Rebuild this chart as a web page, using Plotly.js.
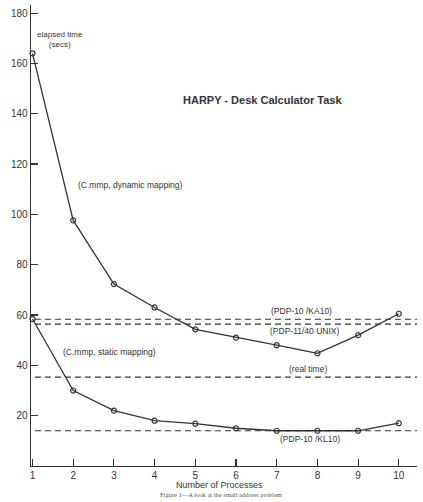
<!DOCTYPE html>
<html>
<head>
<meta charset="utf-8">
<script src="https://cdn.plot.ly/plotly-3.0.1.min.js"></script>
<style>html,body{margin:0;padding:0;background:#fff;}#chart{width:423px;height:502px;}</style>
</head>
<body>
<div id="chart"></div>
<script>
// Data
var processes = [1, 2, 3, 4, 5, 6, 7, 8, 9, 10];
var dynamicMapping = [164, 97.6, 72.3, 63, 54.3, 51, 48, 44.8, 52, 60.5];
var staticMapping = [58.4, 30, 22, 18, 16.8, 15, 14, 14, 14, 17];
var refNames = ["(PDP-10 /KA10)", "(PDP-11/40 UNIX)", "(real time)", "(PDP-10 /KL10)"];
var refValues = [58.3, 56.4, 35.3, 14];
var refSpan = [1.06, 10.5];
var yTicks = [20, 40, 60, 80, 100, 120, 140, 160, 180];

var ink = "#333333";
var font = "Liberation Sans, Arial, sans-serif";

var traces = [];
refValues.forEach(function (v, i) {
  traces.push({
    x: refSpan, y: [v, v], mode: "lines", name: refNames[i],
    line: {color: ink, width: 1.1, dash: "6px,4px"},
    cliponaxis: false, hoverinfo: "skip"
  });
});
[dynamicMapping, staticMapping].forEach(function (s, i) {
  traces.push({
    x: processes, y: s, mode: "lines+markers",
    name: i === 0 ? "C.mmp, dynamic mapping" : "C.mmp, static mapping",
    line: {color: ink, width: 1.3},
    marker: {symbol: "circle-open", size: 5, color: ink, line: {width: 1.2, color: ink}},
    cliponaxis: false
  });
});

function ann(text, x, y, size, extra) {
  var a = {text: text, x: x, y: y, xref: "x", yref: "y", showarrow: false,
    font: {family: font, size: size || 9, color: ink}, xanchor: "center", yanchor: "middle"};
  for (var k in extra) a[k] = extra[k];
  return a;
}

var layout = {
  width: 423, height: 502,
  margin: {l: 31, r: 6, t: 5, b: 36},
  paper_bgcolor: "#fff", plot_bgcolor: "#fff",
  showlegend: false,
  font: {family: font, color: ink, size: 10},
  xaxis: {
    range: [0.963, 10.447], tickvals: processes, ticks: "inside", ticklen: 7,
    tickcolor: ink, tickwidth: 1.1, showline: true, linecolor: ink, linewidth: 1.3,
    showgrid: false, zeroline: false, tickfont: {family: font, size: 10, color: ink}
  },
  yaxis: {
    range: [0, 183.2], tickvals: yTicks, ticks: "inside", ticklen: 7,
    tickcolor: ink, tickwidth: 1.1, showline: true, linecolor: ink, linewidth: 1.3,
    showgrid: false, zeroline: false, tickfont: {family: font, size: 10, color: ink}
  },
  annotations: [
    ann("elapsed time<br>(secs)", 1.68, 169.6, 8),
    ann("<b>HARPY - Desk Calculator Task</b>", 6.64, 145.4, 11),
    ann("(C.mmp, dynamic mapping)", 3.4, 111.6, 8.5),
    ann("(C.mmp, static mapping)", 2.9, 45.3, 8.5),
    ann(refNames[0], 7.62, 61.6, 8.5),
    ann(refNames[1], 7.68, 53.6, 8.5),
    ann(refNames[2], 7.78, 38.5, 8.5),
    ann(refNames[3], 7.82, 10.7, 8.5),
    {text: "Number of Processes", xref: "paper", yref: "paper", x: 0.489, y: -0.041,
      showarrow: false, xanchor: "center", yanchor: "middle",
      font: {family: font, size: 9, color: ink}},
    {text: "Figure 1—A look at the small address problem", xref: "paper", yref: "paper",
      x: 0.491, y: -0.061, showarrow: false, xanchor: "center", yanchor: "middle",
      font: {family: "Liberation Serif, serif", size: 6.5, color: "#555"}}
  ]
};

Plotly.newPlot("chart", traces, layout, {staticPlot: true, displayModeBar: false});
</script>
</body>
</html>
